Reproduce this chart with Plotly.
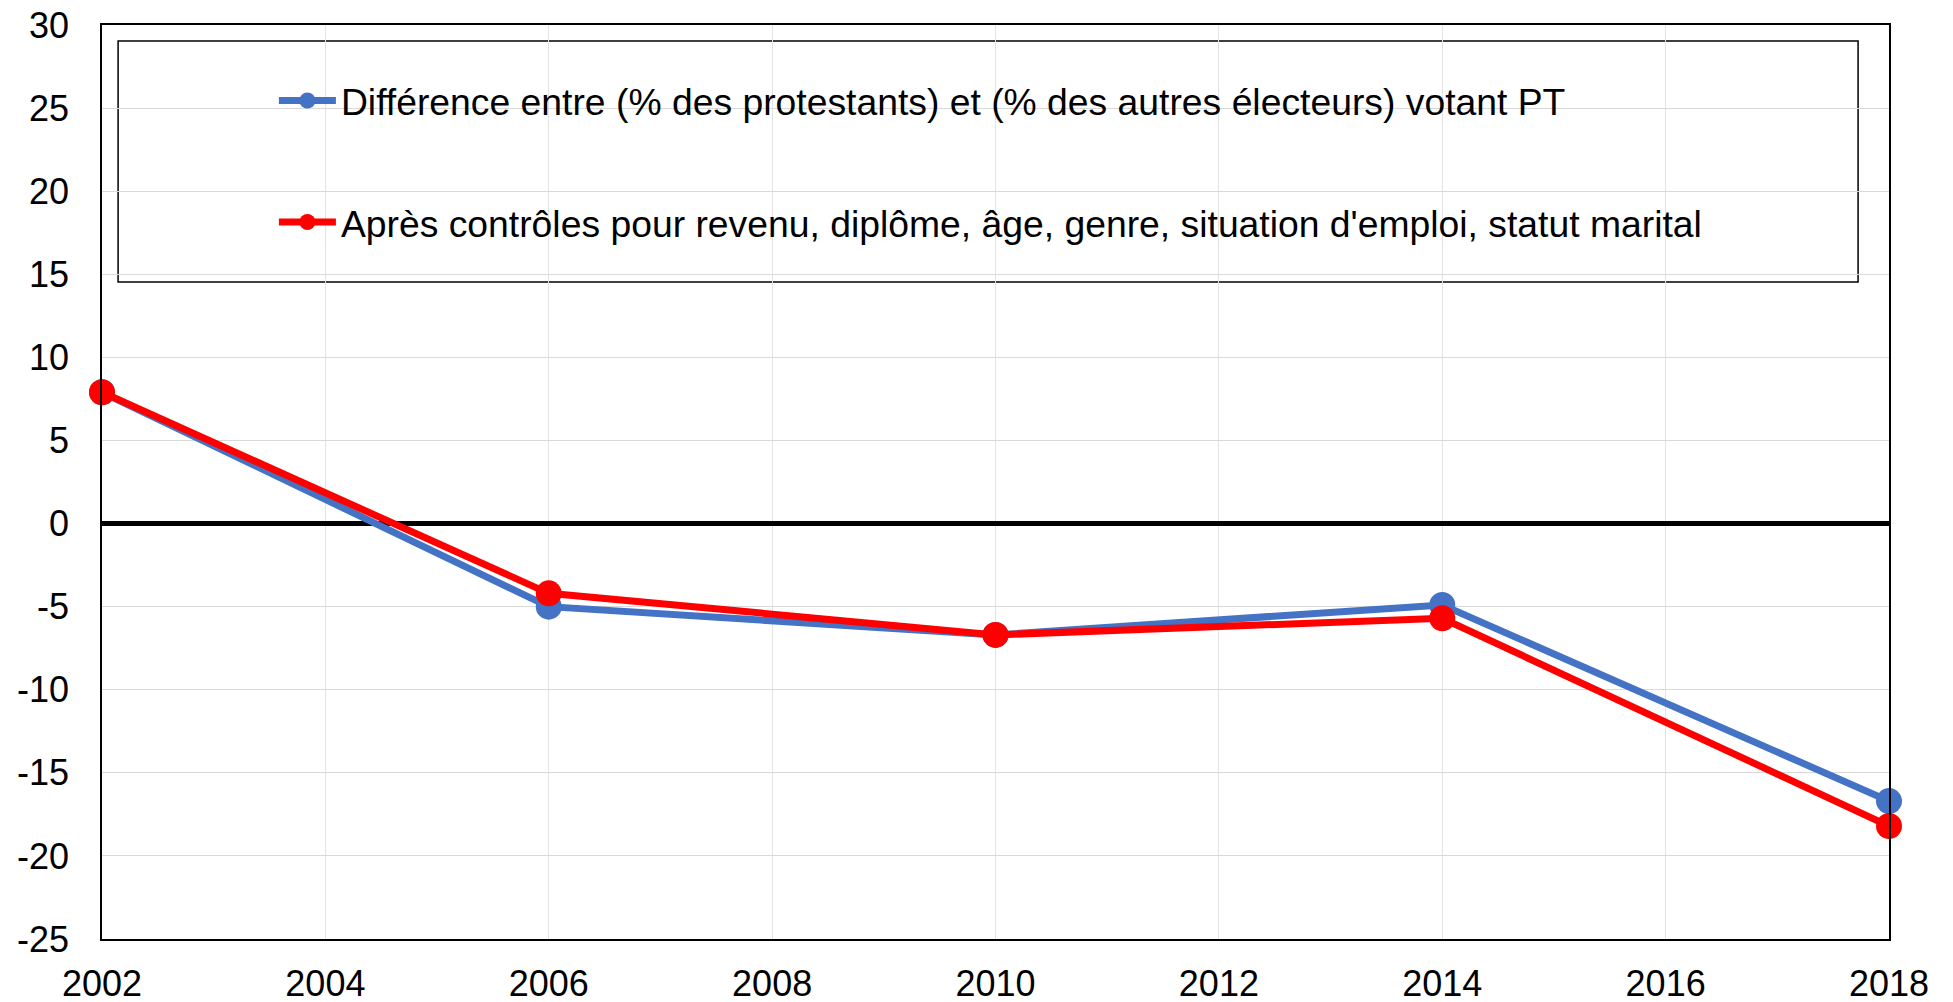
import plotly.graph_objects as go

years = [2002, 2006, 2010, 2014, 2018]
diff_raw = [7.9, -5.0, -6.7, -4.9, -16.7]
diff_ctrl = [7.9, -4.2, -6.7, -5.7, -18.2]
name_raw = "Différence entre (% des protestants) et (% des autres électeurs) votant PT"
name_ctrl = "Après contrôles pour revenu, diplôme, âge, genre, situation d'emploi, statut marital"
x_ticks = [2002, 2004, 2006, 2008, 2010, 2012, 2014, 2016, 2018]
y_ticks = [-25, -20, -15, -10, -5, 0, 5, 10, 15, 20, 25, 30]

FONT = "Liberation Sans, Arial, sans-serif"

fig = go.Figure()
fig.add_trace(go.Scatter(
    x=years, y=diff_raw, name=name_raw, mode="lines+markers",
    line=dict(color="#4472C4", width=7), marker=dict(color="#4472C4", size=26),
    cliponaxis=False, legendgroup="a"))
fig.add_trace(go.Scatter(
    x=years, y=diff_ctrl, name=name_ctrl, mode="lines+markers",
    line=dict(color="#FF0000", width=7), marker=dict(color="#FF0000", size=26),
    cliponaxis=False, legendgroup="b"))

fig.update_layout(
    width=1945, height=994,
    margin=dict(l=94, r=64, t=17, b=63, autoexpand=False),
    paper_bgcolor="white", plot_bgcolor="white",
    font=dict(family=FONT, size=36, color="black"),
    showlegend=True,
    legend=dict(
        x=0.0962, y=0.951, xanchor="left", yanchor="top",
        bgcolor="rgba(0,0,0,0)", borderwidth=0,
        font=dict(size=37.3), itemwidth=57,
        traceorder="grouped", tracegroupgap=70,
    ),
)
fig.add_shape(type="rect", xref="paper", yref="paper",
              x0=0.009, x1=0.9827, y0=0.7188, y1=0.9825,
              line=dict(color="black", width=1.5), fillcolor="white", layer="below")
fig.update_xaxes(
    range=[2002, 2018], tickvals=x_ticks, ticktext=[str(v) for v in x_ticks],
    showgrid=True, gridcolor="#e3e3e3", gridwidth=1,
    showline=True, linecolor="black", linewidth=2, mirror=True,
    ticks="", ticklabelstandoff=12, zeroline=False, automargin=False,
    ticklabeloverflow="allow", tickfont=dict(size=36),
)
fig.update_yaxes(
    range=[-25, 30], tickvals=y_ticks, ticktext=[str(v) for v in y_ticks],
    showgrid=True, gridcolor="#d9d9d9", gridwidth=1,
    showline=True, linecolor="black", linewidth=1.5, mirror=True,
    ticks="", ticklabelstandoff=24, automargin=False,
    zeroline=True, zerolinecolor="black", zerolinewidth=5,
    ticklabeloverflow="allow", tickfont=dict(size=36),
)

fig.write_html("out.html")
